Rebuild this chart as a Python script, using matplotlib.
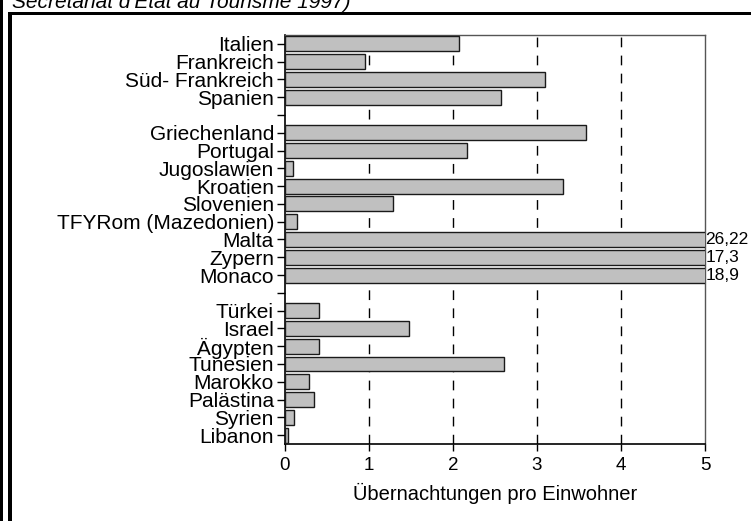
import matplotlib
matplotlib.use("Agg")
import matplotlib.pyplot as plt
from matplotlib.patches import Rectangle

plt.rcParams['font.family'] = ['Liberation Sans', 'DejaVu Sans']

categories = ["Italien", "Frankreich", "Süd- Frankreich", "Spanien", "",
              "Griechenland", "Portugal", "Jugoslawien", "Kroatien", "Slovenien",
              "TFYRom (Mazedonien)", "Malta", "Zypern", "Monaco", "",
              "Türkei", "Israel", "Ägypten", "Tunesien", "Marokko", "Palästina",
              "Syrien", "Libanon"]
values = [2.07, 0.95, 3.09, 2.57, None,
          3.58, 2.17, 0.10, 3.31, 1.28,
          0.14, 26.22, 17.3, 18.9, None,
          0.41, 1.48, 0.40, 2.61, 0.29, 0.35,
          0.11, 0.03]
overflow_labels = {"Malta": "26,22", "Zypern": "17,3", "Monaco": "18,9"}
x_ticks = [0, 1, 2, 3, 4, 5]
x_label = "Übernachtungen pro Einwohner"
source_text = "Secrétariat d'Etat au Tourisme 1997)"

W, H = 751, 521
fig = plt.figure(figsize=(W / 100, H / 100), dpi=100)
ax = fig.add_axes([285 / W, 1 - 444 / H, 420 / W, 409 / H])

ypos = list(range(len(categories)))
for y, v, c in zip(ypos, values, categories):
    if v is None:
        continue
    ax.barh(y, v, height=0.84, color='#c0c0c0', edgecolor='#1a1a1a',
            linewidth=1.0, zorder=3)
    if c in overflow_labels:
        ax.text(5.006, y, overflow_labels[c], ha='left', va='center',
                fontsize=12.5, clip_on=False)

ax.set_xlim(0, 5)
ax.set_ylim(len(categories) - 0.5, -0.5)
ax.set_yticks(ypos)
ax.set_yticklabels(categories, fontsize=15)
ax.set_xticks(x_ticks)
ax.set_xticklabels([str(t) for t in x_ticks], fontsize=13.5)
ax.set_xlabel(x_label, fontsize=14.5, labelpad=7)

for gx in x_ticks[1:-1]:
    ax.axvline(gx, color='black', linewidth=1.0, linestyle=(0, (7, 6)), zorder=1)

ax.tick_params(axis='y', length=6, width=1, pad=2, direction='out')
ax.tick_params(axis='x', length=5, width=1, pad=4, direction='out')
for s in ['left', 'bottom']:
    ax.spines[s].set_linewidth(1.2)
    ax.spines[s].set_color('black')
for s in ['top', 'right']:
    ax.spines[s].set_linewidth(1.0)
    ax.spines[s].set_color('#555555')

# outer frame lines
fig.patches.append(Rectangle((0 / W, 0), 3 / W, 1, transform=fig.transFigure,
                             facecolor='black', edgecolor='none'))
fig.patches.append(Rectangle((8 / W, 0), 4 / W, 1 - 12 / H, transform=fig.transFigure,
                             facecolor='black', edgecolor='none'))
fig.patches.append(Rectangle((8 / W, 1 - 15 / H), 1, 3 / H, transform=fig.transFigure,
                             facecolor='black', edgecolor='none'))

fig.text(12 / W, 1 - 8 / H, source_text, fontsize=15, style='italic',
         ha='left', va='baseline')

fig.savefig("out.png", dpi=100)
